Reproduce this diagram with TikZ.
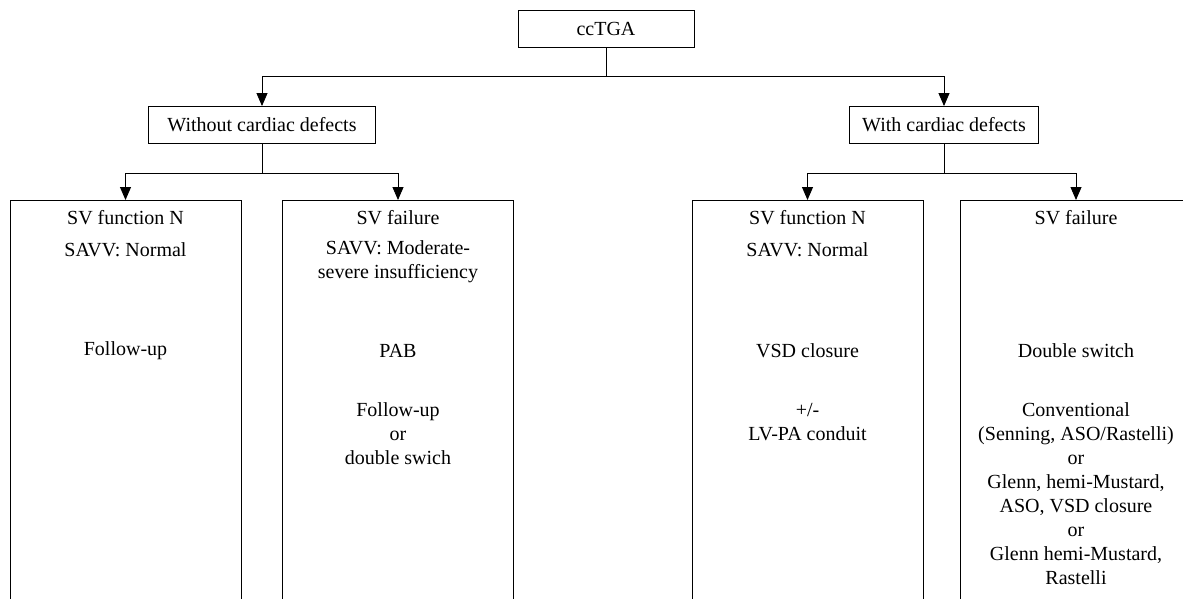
\documentclass[tikz,border=0pt]{standalone}
\usepackage{fontspec}
\setmainfont{Liberation Serif}
\usetikzlibrary{arrows.meta}
\begin{document}
\begin{tikzpicture}[x=1pt,y=-1pt,
  font=\fontsize{20}{24}\selectfont,
  box/.style={draw, line width=0.9pt, minimum height=37pt, inner sep=0pt},
  col/.style={draw, line width=0.9pt, minimum width=231pt, minimum height=430pt, anchor=north, inner sep=0pt},
  txt/.style={align=center, inner sep=0pt},
  link/.style={line width=0.9pt, -{Triangle[length=13pt,width=11pt]}}]
\useasboundingbox (0,0) rectangle (1183,598);
\clip (0,0) rectangle (1183,598);
% top level
\node[box, minimum width=176pt] (root) at (606,29) {ccTGA};
\node[box, minimum width=227pt] (wo) at (262,125) {Without cardiac defects};
\node[box, minimum width=189pt] (wi) at (944,125) {With cardiac defects};
% columns
\node[col] (c1) at (125.5,200) {};
\node[col] (c2) at (398,200) {};
\node[col] (c3) at (807.5,200) {};
\node[col] (c4) at (1076,200) {};
% connectors
\coordinate (j0) at (606,76);
\coordinate (j1) at (262,173);
\coordinate (j2) at (944,173);
\draw[link] (root.south) -- (j0) -| (wo.north);
\draw[link] (j0) -| (wi.north);
\draw[link] (wo.south) -- (j1) -| (c1.north);
\draw[link] (j1) -| (c2.north);
\draw[link] (wi.south) -- (j2) -| (c3.north);
\draw[link] (j2) -| (c4.north);
% texts column 1
\node[txt] (t11) at (125.5,218) {SV function N};
\node[txt] (t12) at (125.5,250) {SAVV: Normal};
\node[txt] (t13) at (125.5,351) {Follow-up};
% column 2
\node[txt] (t21) at (398,218) {SV failure};
\node[txt] (t22) at (398,262) {SAVV: Moderate-\\severe insufficiency};
\node[txt] (t23) at (398,351) {PAB};
\node[txt] (t24) at (398,434) {Follow-up\\or\\double swich};
% column 3
\node[txt] (t31) at (807.5,218) {SV function N};
\node[txt] (t32) at (807.5,250) {SAVV: Normal};
\node[txt] (t33) at (807.5,351) {VSD closure};
\node[txt] (t34) at (807.5,422) {+/-\\LV-PA conduit};
% column 4
\node[txt] (t41) at (1076,218) {SV failure};
\node[txt] (t43) at (1076,351) {Double switch};
\node[txt] (t44) at (1076,494) {Conventional\\(Senning, ASO/Rastelli)\\or\\Glenn, hemi-Mustard,\\ASO, VSD closure\\or\\Glenn hemi-Mustard,\\Rastelli};
\end{tikzpicture}
\end{document}
